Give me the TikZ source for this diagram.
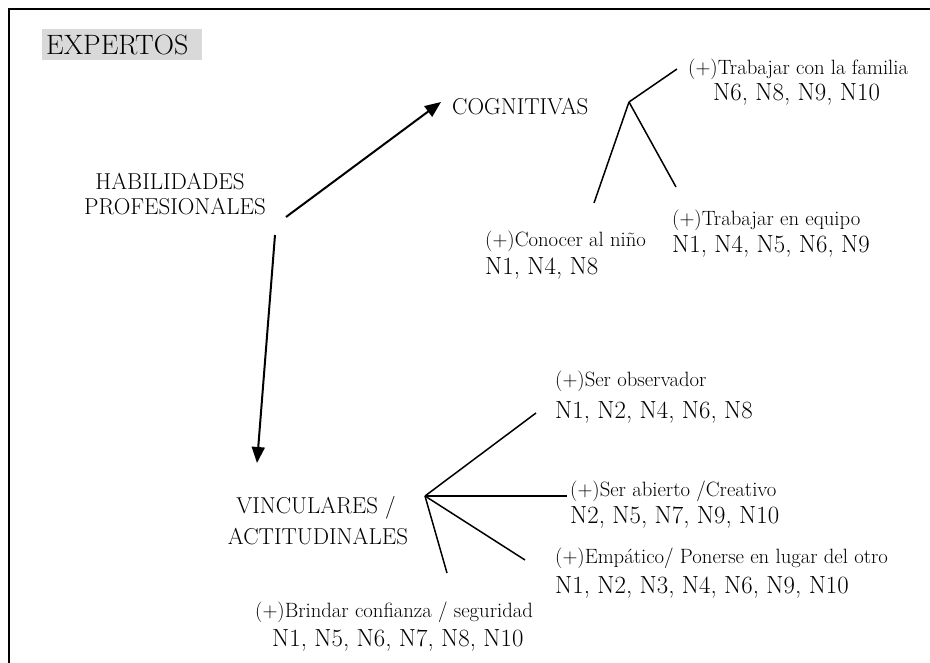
\documentclass[tikz,border=0pt]{standalone}
\usepackage{tikz}
\usetikzlibrary{arrows.meta}

\begin{document}
\begin{tikzpicture}[x=1pt,y=-1pt,
    caps/.style = {font=\fontsize{23}{28}\selectfont, inner sep=0pt, anchor=base},
    small/.style = {font=\fontsize{20.7}{24}\selectfont, inner sep=0pt, anchor=base west},
    codes/.style = {font=\fontsize{24.8}{29}\selectfont, inner sep=0pt, anchor=base west},
    branch/.style = {line width=1.5pt},
    flecha/.style = {line width=2pt, -{Triangle[length=16pt,width=13pt]}}
  ]

  \useasboundingbox (0,0) rectangle (930,663);
  \draw[line width=2pt] (9,663) -- (9,9) -- (930,9);

  % titulo
  \fill[gray!30] (42,29) rectangle (202,60);
  \node[inner sep=0pt, anchor=base west, font=\fontsize{28}{33}\selectfont] (exp) at (46,55) {EXPERTOS};

  % categorias
  \node[caps] (hab) at (170,190) {HABILIDADES};
  \node[caps] (prof) at (175,215) {PROFESIONALES};
  \node[caps, anchor=base west] (cog) at (452,115) {COGNITIVAS};
  \node[caps] (vin) at (316,513) {VINCULARES /};
  \node[caps] (act) at (318,544) {ACTITUDINALES};

  \coordinate (h1) at (286,217);
  \coordinate (c1) at (441,102);
  \coordinate (h2) at (275,235);
  \coordinate (v1) at (257,463);
  \draw[flecha] (h1) -- (c1);
  \draw[flecha] (h2) -- (v1);

  % cognitivas
  \coordinate (hubC) at (629,102);
  \coordinate (famE) at (677,69);
  \coordinate (ninE) at (594,203);
  \coordinate (equE) at (676,187);
  \draw[branch] (hubC) -- (famE);
  \draw[branch] (hubC) -- (ninE);
  \draw[branch] (hubC) -- (equE);

  \node[small] (fam) at (688,75) {(+)Trabajar con la familia};
  \node[codes] (famN) at (713,101) {N6, N8, N9, N10};
  \node[small] (equ) at (672,226) {(+)Trabajar en equipo};
  \node[codes] (equN) at (672,253) {N1, N4, N5, N6, N9};
  \node[small] (nin) at (485,247) {(+)Conocer al niño};
  \node[codes] (ninN) at (485,275) {N1, N4, N8};

  % vinculares
  \coordinate (hubV) at (425,496);
  \coordinate (obsE) at (536,413);
  \coordinate (abiE) at (567,496);
  \coordinate (empE) at (525,560);
  \coordinate (briE) at (447,573);
  \draw[branch] (hubV) -- (obsE);
  \draw[branch] (hubV) -- (abiE);
  \draw[branch] (hubV) -- (empE);
  \draw[branch] (hubV) -- (briE);

  \node[small] (obs) at (555,387) {(+)Ser observador};
  \node[codes] (obsN) at (555,418) {N1, N2, N4, N6, N8};
  \node[small] (abi) at (570,496) {(+)Ser abierto /Creativo};
  \node[codes] (abiN) at (570,523) {N2, N5, N7, N9, N10};
  \node[small] (emp) at (555,563) {(+)Empático/ Ponerse en lugar del otro};
  \node[codes] (empN) at (555,593) {N1, N2, N3, N4, N6, N9, N10};
  \node[small] (bri) at (255,617) {(+)Brindar confianza / seguridad};
  \node[codes] (briN) at (272,646) {N1, N5, N6, N7, N8, N10};

\end{tikzpicture}
\end{document}
